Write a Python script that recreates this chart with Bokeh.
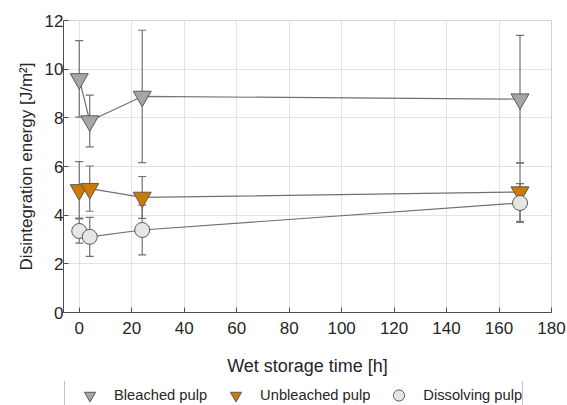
from bokeh.plotting import figure
from bokeh.models import ColumnDataSource, Whisker, TeeHead, Legend, LegendItem, Range1d, FixedTicker
from bokeh.layouts import column
from bokeh.embed import file_html
from bokeh.resources import INLINE

# ---- data ----
time = [0, 4, 24, 168]
bleached = [9.6, 7.87, 8.88, 8.77]
bleached_err = [1.57, 1.06, 2.72, 2.62]
unbleached = [5.04, 5.09, 4.73, 4.95]
unbleached_err = [1.16, 0.93, 0.86, 1.2]
dissolving = [3.35, 3.11, 3.39, 4.5]
dissolving_err = [0.5, 0.8, 1.02, 0.8]
series_names = ["Bleached pulp", "Unbleached pulp", "Dissolving pulp"]
x_ticks = [0, 20, 40, 60, 80, 100, 120, 140, 160, 180]
y_ticks = [0, 2, 4, 6, 8, 10, 12]

FONT = "Liberation Sans"
TXT = "#262626"
LINE = "#707070"
EDGE = "#5a5a5a"

p = figure(width=567, height=381,
           min_border_left=63, min_border_right=16, min_border_top=20, min_border_bottom=69,
           x_range=Range1d(-6, 180), y_range=Range1d(0, 12),
           output_backend="svg", toolbar_location=None)

p.background_fill_color = "white"
p.border_fill_color = "white"
p.outline_line_color = "#d0d0d0"
p.outline_line_width = 1

for ax in (p.xaxis[0], p.yaxis[0]):
    ax.axis_line_color = "#4d4d4d"
    ax.major_tick_line_color = "#4d4d4d"
    ax.major_tick_in = 5
    ax.major_tick_out = 0
    ax.minor_tick_line_color = None
    ax.major_label_text_font = FONT
    ax.major_label_text_font_size = "17px"
    ax.major_label_text_color = TXT
    ax.axis_label_text_font = FONT
    ax.axis_label_text_font_style = "normal"
    ax.axis_label_text_color = TXT

p.xaxis.ticker = FixedTicker(ticks=x_ticks)
p.yaxis.ticker = FixedTicker(ticks=y_ticks)
p.xaxis.axis_label = "Wet storage time [h]"
p.yaxis.axis_label = "Disintegration energy [J/m²]"
p.xaxis.axis_label_text_font_size = "18px"
p.yaxis.axis_label_text_font_size = "17px"
p.xaxis.major_label_standoff = 9
p.yaxis.major_label_standoff = 0
p.xaxis.axis_label_standoff = 19
p.yaxis.axis_label_standoff = 6

p.xgrid.grid_line_color = "#e3e3e3"
p.ygrid.grid_line_color = "#e3e3e3"
p.xgrid.ticker = FixedTicker(ticks=x_ticks)
p.ygrid.ticker = FixedTicker(ticks=y_ticks)

specs = [
    (bleached, bleached_err, "inverted_triangle", "#a6a6a6", 18),
    (unbleached, unbleached_err, "inverted_triangle", "#cc7a00", 18),
    (dissolving, dissolving_err, "circle", "#e6e6e6", 15),
]

# legend strip: a second, axis-less figure directly below the chart
lg = figure(width=567, height=24,
            min_border_left=0, min_border_right=0, min_border_top=0, min_border_bottom=0,
            x_axis_location=None, y_axis_location=None,
            output_backend="svg", toolbar_location=None)
lg.grid.visible = False
lg.outline_line_color = None
lg.background_fill_color = "white"
lg.border_fill_color = "white"

legend_renderers = []
for vals, errs, marker, fill, size in specs:
    src = ColumnDataSource(dict(
        x=time, y=vals,
        lo=[v - e for v, e in zip(vals, errs)],
        hi=[v + e for v, e in zip(vals, errs)],
    ))
    w = Whisker(base="x", lower="lo", upper="hi", source=src, dimension="height",
                line_color=LINE, line_width=1.2,
                upper_head=TeeHead(size=8, line_color=LINE, line_width=1.2),
                lower_head=TeeHead(size=8, line_color=LINE, line_width=1.2))
    p.add_layout(w)
    p.line("x", "y", source=src, line_color=LINE, line_width=1.2)
    p.scatter("x", "y", source=src, marker=marker, size=size,
              fill_color=fill, line_color=EDGE, line_width=1)
    lr = lg.scatter("x", "y", source=src, marker=marker, size=size,
                    fill_color=fill, line_color=EDGE, line_width=1, visible=False)
    legend_renderers.append(lr)

legend = Legend(items=[LegendItem(label=n, renderers=[r]) for n, r in zip(series_names, legend_renderers)],
                orientation="horizontal", location=(1, -5),
                glyph_width=49, glyph_height=28, label_height=28, label_standoff=0,
                padding=0, spacing=4, margin=0,
                label_text_font=FONT, label_text_font_size="14.7px", label_text_color=TXT,
                border_line_color="#8c8c8c", border_line_width=1,
                background_fill_color="white", background_fill_alpha=1.0,
                inactive_fill_alpha=0.0)
lg.add_layout(legend, "center")

layout = column(p, lg, spacing=0)
open("out.html", "w").write(file_html(layout, INLINE))
